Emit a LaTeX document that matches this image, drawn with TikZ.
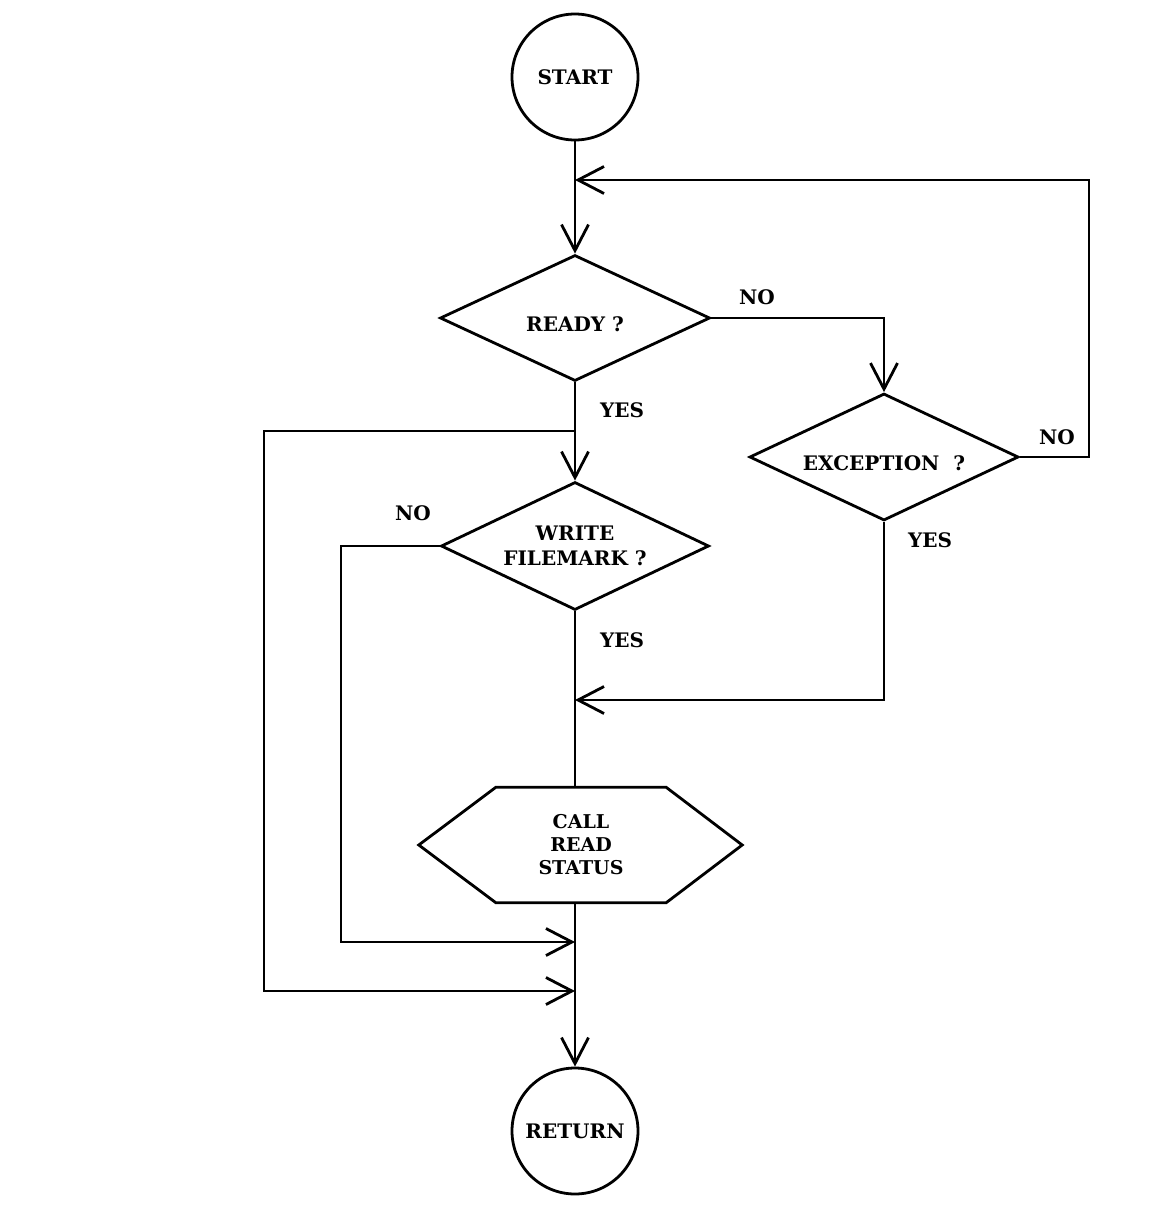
\documentclass[tikz,border=0pt]{standalone}
\usepackage{fontspec}
\setmainfont{DejaVu Serif}
\usetikzlibrary{arrows.meta,shapes.geometric}
\tikzset{
  flow/.style={line width=2.8pt},
  arr/.style={flow,-{Straight Barb[length=26pt,width=27pt]}},
  term/.style={circle,draw,flow,minimum size=126pt,inner sep=0pt,font=\fontsize{20}{22}\selectfont\bfseries},
  ask/.style={diamond,draw,flow,shape aspect=2.1,minimum width=270pt,minimum height=126pt,inner sep=0pt,align=center,font=\fontsize{20}{25}\selectfont\bfseries},
  lowtext/.style={text height=26.5pt,text depth=0pt},
  proc/.style={draw=none,minimum width=170pt,minimum height=115pt,inner sep=0pt,align=center,font=\fontsize{19}{23}\selectfont\bfseries},
  lbl/.style={font=\fontsize{20}{22}\selectfont\bfseries},
}
\begin{document}
\begin{tikzpicture}[x=1pt,y=-1pt]
  \useasboundingbox (0,0) rectangle (1149,1224);
  \fill[white] (0,0) rectangle (1149,1224);

  % boxes
  \node[term] (start) at (575,77) {START};
  \node[ask,lowtext] (ready) at (575,318) {READY ?};
  \node[ask,lowtext,minimum width=269pt,minimum height=127pt] (exc) at (884,457) {EXCEPTION\ \ ?};
  \node[ask,minimum width=268pt,minimum height=128pt] (write) at (575,546) {WRITE\\FILEMARK ?};
  \node[proc] (call) at (581,845) {CALL\\READ\\STATUS};
  \draw[flow] (call.north west) -- (call.north east) -- ([xshift=76pt]call.east)
    -- (call.south east) -- (call.south west) -- ([xshift=-77pt]call.west) -- cycle;
  \node[term] (ret) at (575,1131) {RETURN};

  % junctions
  \coordinate (loopin) at (575,180);
  \coordinate (loopright) at (1089,180);
  \coordinate (jtop) at (575,431);
  \coordinate (jexc) at (575,700);
  \coordinate (innerbot) at (341,942);
  \coordinate (m1) at (575,942);
  \coordinate (outerbot) at (264,991);
  \coordinate (m2) at (575,991);

  % flow lines
  \draw[arr] (start) -- (ready);
  \draw[arr] (ready.east) -| (exc.north);
  \draw[arr] (exc.east) -| (loopright) -- (loopin);
  \draw[arr] (ready) -- (write);
  \draw[arr] (jtop) -| (outerbot) -- (m2);
  \draw[arr] (write.west) -| (innerbot) -- (m1);
  \draw[arr] (exc.south) |- (jexc);
  \draw[flow] (write.south) -- (write.south |- call.north);
  \draw[arr] (call.south -| ret.north) -- (ret.north);

  % branch labels
  \node[lbl] (noready) at (757,297) {NO};
  \node[lbl] (yesready) at (622,410) {YES};
  \node[lbl] (noexc) at (1057,437) {NO};
  \node[lbl] (yesexc) at (930,540) {YES};
  \node[lbl] (nowrite) at (413,513) {NO};
  \node[lbl] (yeswrite) at (622,640) {YES};
\end{tikzpicture}
\end{document}
